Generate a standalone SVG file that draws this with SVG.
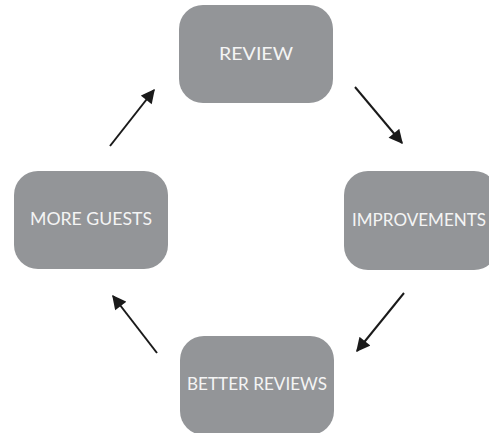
<svg xmlns="http://www.w3.org/2000/svg" width="489" height="433" viewBox="0 0 489 433">
<style>
.box{fill:#939598}
.lbl{font-family:Lato,"Liberation Sans",sans-serif;font-size:17.5px;fill:#f4f4f4;text-anchor:middle}
.arr{stroke:#1a1a1a;stroke-width:2;fill:none;marker-end:url(#ah)}
</style>
<defs>
<marker id="ah" viewBox="0 0 10 10" refX="9" refY="5" markerWidth="7.5" markerHeight="7" markerUnits="strokeWidth" orient="auto">
<path d="M0,0 L10,5 L0,10 Z" fill="#1a1a1a"/>
</marker>
</defs>
<rect width="489" height="433" fill="#fff"/>
<g id="review"><rect class="box" x="179" y="5" width="154" height="98" rx="24"/><text class="lbl" x="256" y="60" textLength="74" lengthAdjust="spacingAndGlyphs">REVIEW</text></g>
<g id="improvements"><rect class="box" x="344" y="171" width="154" height="99" rx="24"/><text class="lbl" x="419" y="226" textLength="134" lengthAdjust="spacingAndGlyphs">IMPROVEMENTS</text></g>
<g id="better-reviews"><rect class="box" x="180" y="336" width="154" height="99" rx="24"/><text class="lbl" x="257" y="390" textLength="140" lengthAdjust="spacingAndGlyphs">BETTER REVIEWS</text></g>
<g id="more-guests"><rect class="box" x="14" y="171" width="154" height="98" rx="24"/><text class="lbl" x="91" y="225" textLength="122" lengthAdjust="spacingAndGlyphs">MORE GUESTS</text></g>
<g id="connectors">
<line class="arr" x1="110" y1="146" x2="154" y2="90"/>
<line class="arr" x1="355" y1="87" x2="402" y2="143"/>
<line class="arr" x1="404" y1="293" x2="357" y2="351"/>
<line class="arr" x1="157" y1="353" x2="113" y2="296"/>
</g>
</svg>
